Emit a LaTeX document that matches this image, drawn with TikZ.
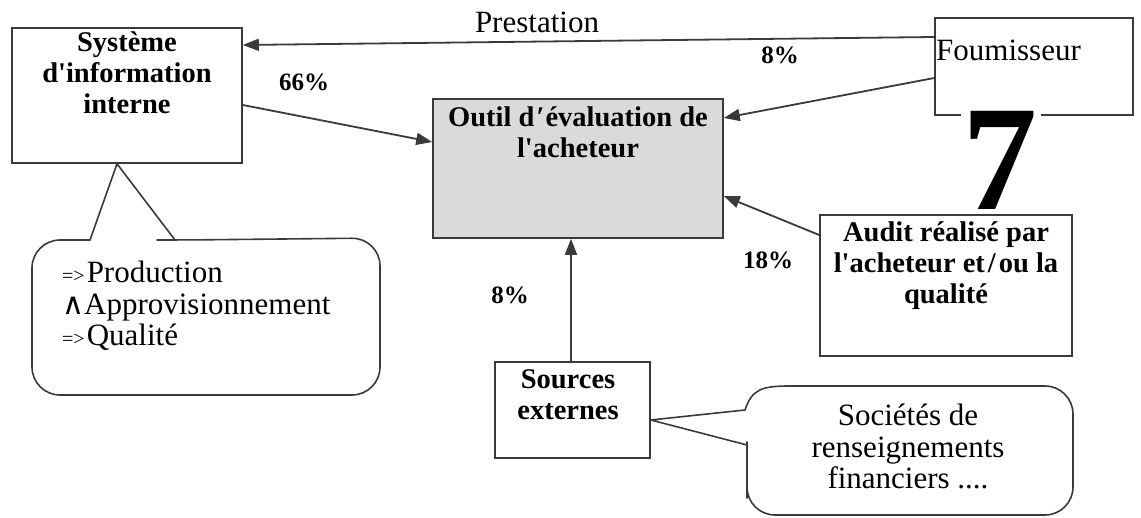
\documentclass[tikz,border=0pt]{standalone}
\usepackage{fontspec}
\setmainfont{Liberation Serif}
\newfontfamily\symfont{DejaVu Sans}
\usetikzlibrary{arrows.meta}
\definecolor{linec}{HTML}{3A3A3A}
\definecolor{greyfill}{HTML}{DADADA}
\newcommand{\sq}{\textquotesingle}
\begin{document}
\begin{tikzpicture}[x=1pt,y=-1pt,
  box/.style={draw=linec, line width=1.6pt, inner sep=0pt},
  bub/.style={draw=linec, line width=1.6pt, line join=round},
  arr/.style={draw=linec, line width=1.8pt, -{Triangle[length=16pt,width=12pt]}},
  btext/.style={font=\bfseries\fontsize{28.5}{31}\selectfont, align=center, inner sep=0pt},
  rtext/.style={font=\fontsize{31}{31.5}\selectfont, inner sep=0pt},
  pct/.style={font=\bfseries\fontsize{25}{25}\selectfont, inner sep=0pt}]
\useasboundingbox (0,0) rectangle (1141,518);
% boxes
\node[box, minimum width=230pt, minimum height=135pt] (sys) at (127,95.5) {};
\node[box, minimum width=198pt, minimum height=97pt] (four) at (1034,66.5) {};
\node[box, fill=greyfill, minimum width=290pt, minimum height=139pt] (outil) at (578,168.5) {};
\node[box, minimum width=252pt, minimum height=141pt] (audit) at (946,285.5) {};
\node[box, minimum width=155pt, minimum height=96pt] (src) at (572.5,410) {};
% box texts
\node[btext, anchor=north] (tsys) at (127,32) {Système\\d\sq information\\interne};
\node[btext, anchor=north] (toutil) at (578,107) {Outil d\kern2pt′\kern1ptévaluation de\\l\sq acheteur};
\node[btext, anchor=north] (taudit) at (946,221) {Audit réalisé par\\l\sq acheteur et\kern3pt/\kern3ptou la\\qualité};
\node[btext, anchor=north] (tsrc) at (568,369) {Sources\\externes};
\node[rtext, anchor=north west] (tfour) at (936,40) {Foumisseur};
% big seven (gap in the box edge behind it)
\fill[white] (961,111) rectangle (1041,117);
\node[font=\bfseries\fontsize{150}{150}\selectfont, inner sep=0pt, anchor=base, text depth=0pt] (seven) at (1000,210) {7};
% connectors
\draw[arr] ([yshift=29.5pt]four.west) -- ([yshift=50.5pt]sys.east);
\node[rtext, anchor=base] (prest) at (537,33) {Prestation};
\draw[arr] ([yshift=-11.5pt]four.west) -- ([yshift=50.5pt]outil.east);
\draw[arr] ([yshift=-9.5pt]sys.east) -- ([yshift=26.5pt]outil.west);
\draw[arr] ([yshift=50.5pt]audit.west) -- ([yshift=-27.5pt]outil.east);
\draw[arr] ([xshift=-1.5pt]src.north) -- ([xshift=-7pt]outil.south);
% percentages
\node[pct] (p66) at (304,82) {66\%};
\node[pct] (p8a) at (780,55) {8\%};
\node[pct] (p18) at (768,260) {18\%};
\node[pct] (p8b) at (510,295) {8\%};
% callout 1
\draw[bub] ([xshift=-10pt]sys.south) -- (90,240) -- (80,240) [rounded corners=28pt] -- (32,240) -- (32,395) -- (380,395) -- (380,238) -- (185,240) [sharp corners] -- (175,240) -- cycle;
\node[rtext, anchor=north west, align=left] (tcall1) at (62,261) {{\fontsize{20}{20}\selectfont =>}\kern2pt Production\\{\symfont\fontsize{30}{30}\selectfont ∧}Approvisionnement\\{\fontsize{20}{20}\selectfont =>}\kern2pt Qualité};
% callout 2
\draw[bub] ([yshift=-10pt]src.east) -- (745,410) .. controls (752,389) and (762,386) .. (790,386) -- (800,386) [rounded corners=28pt] -- (1073,386) -- (1073,515) -- (747,515) -- (747,470) [sharp corners] -- (747,445) -- cycle;
\node[rtext, anchor=north, align=center] (tcall2) at (908,404) {Sociétés de\\renseignements\\financiers ....};
\end{tikzpicture}
\end{document}
